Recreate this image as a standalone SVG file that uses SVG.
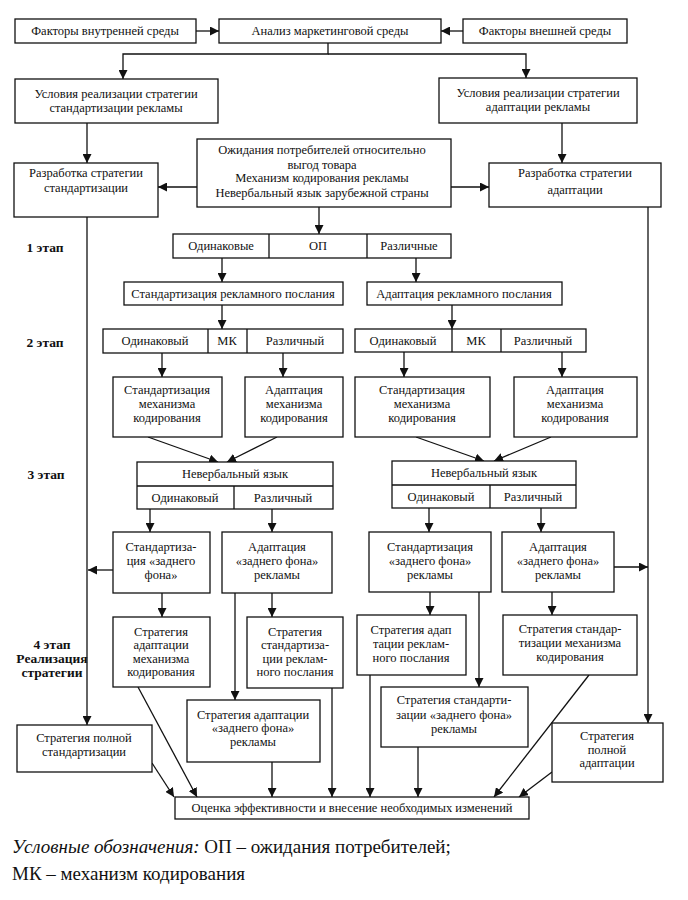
<svg xmlns="http://www.w3.org/2000/svg" width="688" height="900" viewBox="0 0 688 900">
<style>
.b{fill:#fff;stroke:#111;stroke-width:1.3}
.t{font-family:'Liberation Serif','DejaVu Serif',serif;font-size:12.5px;fill:#111;text-anchor:middle}
.s{font-family:'Liberation Serif','DejaVu Serif',serif;font-size:13.5px;font-weight:bold;fill:#111;text-anchor:middle}
.l{fill:none;stroke:#111;stroke-width:1.3}
.g{font-family:'Liberation Serif','DejaVu Serif',serif;font-size:19px;fill:#111}
</style>
<defs>
<marker id="a" viewBox="0 0 10 10" refX="10" refY="5" markerWidth="9" markerHeight="9" markerUnits="userSpaceOnUse" orient="auto"><path d="M0,0 L10,5 L0,10 z" fill="#111"/></marker>
</defs>
<rect width="688" height="900" fill="#fff"/>

<g id="connectors" class="l" marker-end="url(#a)">
<path d="M196,31 H219"/>
<path d="M463,31 H441"/>
<path d="M328,43 V54 H123 V79"/>
<path d="M328,54 H526 V78"/>
<path d="M87,123 V163"/>
<path d="M562,123 V163"/>
<path d="M197,187 H158"/>
<path d="M451,187 H489"/>
<path d="M319,207 V234"/>
<path d="M87,217 V725"/>
<path d="M648,207 V723"/>
<path d="M222,258 V282"/>
<path d="M416,258 V282"/>
<path d="M222,305 V329"/>
<path d="M452,305 V329"/>
<path d="M162,353 V377"/>
<path d="M283,353 V377"/>
<path d="M404,352 V377"/>
<path d="M562,352 V377"/>
<path d="M148,437 L218,462"/>
<path d="M277,437 L227,462"/>
<path d="M416,437 L484,461"/>
<path d="M551,437 L494,461"/>
<path d="M150,509 V532"/>
<path d="M272,509 V532"/>
<path d="M429,508 V532"/>
<path d="M541,508 V532"/>
<path d="M113,570 H88"/>
<path d="M614,567 H648"/>
<path d="M162,593 V617"/>
<path d="M272,593 V617"/>
<path d="M235,593 V700"/>
<path d="M430,592 V615"/>
<path d="M479,592 V687"/>
<path d="M552,592 V615"/>
<path d="M152,763 L174,797"/>
<path d="M138,687 L197,797"/>
<path d="M272,762 V797"/>
<path d="M332,688 V797"/>
<path d="M370,675 V797"/>
<path d="M418,747 V797"/>
<path d="M589,675 L494,797"/>
<path d="M552,772 L519,797"/>
</g>

<g id="n1"><rect class="b" x="15" y="19" width="181" height="24"/><text class="t" x="105" y="35">Факторы внутренней среды</text></g>
<g id="n2"><rect class="b" x="219" y="19" width="222" height="24"/><text class="t" x="330" y="35">Анализ маркетинговой среды</text></g>
<g id="n3"><rect class="b" x="463" y="19" width="164" height="24"/><text class="t" x="545" y="35">Факторы внешней среды</text></g>
<g id="n4"><rect class="b" x="15" y="79" width="203" height="44"/><text class="t" x="116" y="98">Условия реализации стратегии</text><text class="t" x="116" y="112">стандартизации рекламы</text></g>
<g id="n5"><rect class="b" x="439" y="78" width="198" height="45"/><text class="t" x="538" y="97">Условия реализации стратегии</text><text class="t" x="538" y="111">адаптации рекламы</text></g>
<g id="n6"><rect class="b" x="14" y="163" width="144" height="54"/><text class="t" x="86" y="177">Разработка стратегии</text><text class="t" x="86" y="192">стандартизации</text></g>
<g id="n7"><rect class="b" x="489" y="163" width="172" height="44"/><text class="t" x="575" y="177">Разработка стратегии</text><text class="t" x="575" y="194">адаптации</text></g>
<g id="n8"><rect class="b" x="197" y="139" width="254" height="68"/><text class="t" x="322" y="154">Ожидания потребителей относительно</text><text class="t" x="322" y="169">выгод товара</text><text class="t" x="322" y="182">Механизм кодирования рекламы</text><text class="t" x="322" y="197">Невербальный язык зарубежной страны</text></g>
<g id="n9"><rect class="b" x="173" y="234" width="278" height="24"/><path class="l" d="M269,234 V258 M367,234 V258"/><text class="t" x="221" y="250">Одинаковые</text><text class="t" x="318" y="250">ОП</text><text class="t" x="409" y="250">Различные</text></g>
<g id="n10"><rect class="b" x="124" y="282" width="219" height="23"/><text class="t" x="233" y="298">Стандартизация рекламного послания</text></g>
<g id="n11"><rect class="b" x="367" y="282" width="195" height="23"/><text class="t" x="464" y="298">Адаптация рекламного послания</text></g>
<g id="n12"><rect class="b" x="103" y="329" width="240" height="24"/><path class="l" d="M208,329 V353 M247,329 V353"/><text class="t" x="155" y="345">Одинаковый</text><text class="t" x="227" y="345">МК</text><text class="t" x="295" y="345">Различный</text></g>
<g id="n13"><rect class="b" x="355" y="329" width="231" height="23"/><path class="l" d="M452,329 V352 M501,329 V352"/><text class="t" x="403" y="345">Одинаковый</text><text class="t" x="476" y="345">МК</text><text class="t" x="543" y="345">Различный</text></g>
<g id="n14"><rect class="b" x="113" y="377" width="109" height="60"/><text class="t" x="167" y="394">Стандартизация</text><text class="t" x="167" y="408">механизма</text><text class="t" x="167" y="422">кодирования</text></g>
<g id="n15"><rect class="b" x="245" y="377" width="98" height="60"/><text class="t" x="294" y="394">Адаптация</text><text class="t" x="294" y="408">механизма</text><text class="t" x="294" y="422">кодирования</text></g>
<g id="n16"><rect class="b" x="355" y="377" width="135" height="60"/><text class="t" x="422" y="394">Стандартизация</text><text class="t" x="422" y="408">механизма</text><text class="t" x="422" y="422">кодирования</text></g>
<g id="n17"><rect class="b" x="514" y="377" width="123" height="60"/><text class="t" x="575" y="394">Адаптация</text><text class="t" x="575" y="408">механизма</text><text class="t" x="575" y="422">кодирования</text></g>
<g id="n18"><rect class="b" x="137" y="462" width="196" height="47"/><path class="l" d="M137,486 H333 M234,486 V509"/><text class="t" x="235" y="478">Невербальный язык</text><text class="t" x="185" y="502">Одинаковый</text><text class="t" x="283" y="502">Различный</text></g>
<g id="n19"><rect class="b" x="392" y="461" width="184" height="47"/><path class="l" d="M392,485 H576 M490,485 V508"/><text class="t" x="484" y="477">Невербальный язык</text><text class="t" x="441" y="501">Одинаковый</text><text class="t" x="533" y="501">Различный</text></g>
<g id="n20"><rect class="b" x="113" y="532" width="97" height="61"/><text class="t" x="161" y="551">Стандартиза-</text><text class="t" x="161" y="565">ция «заднего</text><text class="t" x="161" y="579">фона»</text></g>
<g id="n21"><rect class="b" x="222" y="532" width="110" height="61"/><text class="t" x="277" y="551">Адаптация</text><text class="t" x="277" y="565">«заднего фона»</text><text class="t" x="277" y="579">рекламы</text></g>
<g id="n22"><rect class="b" x="369" y="532" width="122" height="60"/><text class="t" x="430" y="551">Стандартизация</text><text class="t" x="430" y="565">«заднего фона»</text><text class="t" x="430" y="579">рекламы</text></g>
<g id="n23"><rect class="b" x="502" y="532" width="112" height="60"/><text class="t" x="558" y="551">Адаптация</text><text class="t" x="558" y="565">«заднего фона»</text><text class="t" x="558" y="579">рекламы</text></g>
<g id="n24"><rect class="b" x="113" y="617" width="97" height="70"/><text class="t" x="161" y="636">Стратегия</text><text class="t" x="161" y="649">адаптации</text><text class="t" x="161" y="663">механизма</text><text class="t" x="161" y="676">кодирования</text></g>
<g id="n25"><rect class="b" x="247" y="617" width="96" height="71"/><text class="t" x="295" y="636">Стратегия</text><text class="t" x="295" y="649">стандартиза-</text><text class="t" x="295" y="663">ции реклам-</text><text class="t" x="295" y="676">ного послания</text></g>
<g id="n26"><rect class="b" x="187" y="700" width="133" height="62"/><text class="t" x="253" y="719">Стратегия адаптации</text><text class="t" x="253" y="732">«заднего фона»</text><text class="t" x="253" y="746">рекламы</text></g>
<g id="n27"><rect class="b" x="357" y="615" width="109" height="60"/><text class="t" x="411" y="634">Стратегия адап</text><text class="t" x="411" y="648">тации реклам-</text><text class="t" x="411" y="662">ного послания</text></g>
<g id="n28"><rect class="b" x="381" y="687" width="147" height="60"/><text class="t" x="454" y="704">Стратегия стандарти-</text><text class="t" x="454" y="719">зации «заднего фона»</text><text class="t" x="454" y="733">рекламы</text></g>
<g id="n29"><rect class="b" x="503" y="615" width="134" height="60"/><text class="t" x="570" y="633">Стратегия стандар-</text><text class="t" x="570" y="647">тизации механизма</text><text class="t" x="570" y="661">кодирования</text></g>
<g id="n30"><rect class="b" x="17" y="725" width="135" height="47"/><text class="t" x="84" y="742">Стратегия полной</text><text class="t" x="84" y="756">стандартизации</text></g>
<g id="n31"><rect class="b" x="552" y="723" width="111" height="59"/><text class="t" x="607" y="740">Стратегия</text><text class="t" x="607" y="754">полной</text><text class="t" x="607" y="767">адаптации</text></g>
<g id="n32"><rect class="b" x="175" y="797" width="354" height="22"/><text class="t" x="352" y="812">Оценка эффективности и внесение необходимых изменений</text></g>

<g id="stages">
<text class="s" x="45" y="252">1 этап</text>
<text class="s" x="45" y="347">2 этап</text>
<text class="s" x="46" y="479">3 этап</text>
<text class="s" x="52" y="649">4 этап</text>
<text class="s" x="52" y="663">Реализация</text>
<text class="s" x="52" y="677">стратегии</text>
</g>

<g id="legend">
<text class="g" x="12" y="853"><tspan font-style="italic">Условные обозначения:</tspan> ОП – ожидания потребителей;</text>
<text class="g" x="12" y="880">МК – механизм кодирования</text>
</g>
</svg>
